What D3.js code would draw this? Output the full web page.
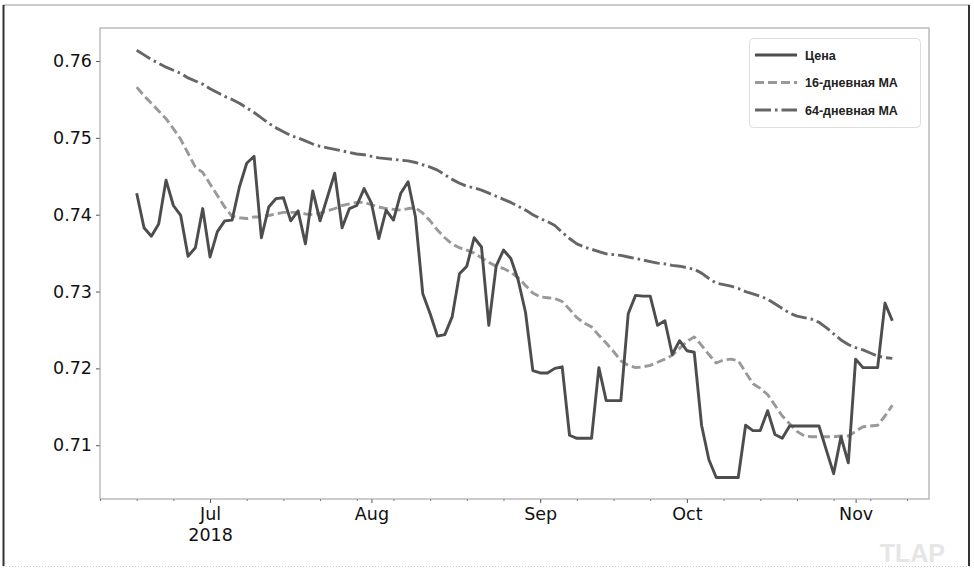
<!DOCTYPE html>
<html>
<head>
<meta charset="utf-8">
<script src="https://cdn.jsdelivr.net/npm/d3@7"></script>
<style>
body { margin: 0; background: #fff; }
svg { display: block; }
</style>
</head>
<body>
<svg id="chart" width="974" height="575"></svg>
<script>
// first trading day of the series, business days only
var startDate = new Date(2018, 5, 18);

var price = [
    0.7428, 0.7383, 0.7372, 0.7388, 0.7445, 0.7412, 0.7399, 0.7346, 0.7357, 0.7408,
    0.7345, 0.7378, 0.7392, 0.7393, 0.7436, 0.7467, 0.7476, 0.7370, 0.7410, 0.7421,
    0.7422, 0.7392, 0.7405, 0.7362, 0.7431, 0.7392, 0.7423, 0.7454, 0.7383, 0.7408,
    0.7412, 0.7434, 0.7415, 0.7369, 0.7406, 0.7393, 0.7428, 0.7443, 0.7397, 0.7297,
    0.7271, 0.7242, 0.7244, 0.7267, 0.7323, 0.7333, 0.7370, 0.7358, 0.7256, 0.7333,
    0.7354, 0.7343, 0.7315, 0.7273, 0.7197, 0.7194, 0.7194, 0.7200, 0.7202, 0.7113,
    0.7109, 0.7109, 0.7109, 0.7201, 0.7158, 0.7158, 0.7158, 0.7271, 0.7295, 0.7294,
    0.7294, 0.7256, 0.7262, 0.7218, 0.7236, 0.7223, 0.7221, 0.7126, 0.7081, 0.7058,
    0.7058, 0.7058, 0.7058, 0.7126, 0.7119, 0.7119, 0.7145, 0.7114, 0.7109, 0.7125,
    0.7125, 0.7125, 0.7125, 0.7125, 0.7094, 0.7063, 0.7111, 0.7077, 0.7212, 0.7201,
    0.7201, 0.7201, 0.7285, 0.7262
];

var ma16 = [
    0.7566, 0.7555, 0.7545, 0.7535, 0.7525, 0.7512, 0.7498, 0.7480, 0.7462, 0.7455,
    0.7440, 0.7425, 0.7410, 0.7398, 0.7396, 0.7395, 0.7397, 0.7397, 0.7399, 0.7401,
    0.7403, 0.7403, 0.7403, 0.7401, 0.7400, 0.7402, 0.7405, 0.7408, 0.7412, 0.7414,
    0.7416, 0.7416, 0.7413, 0.7410, 0.7408, 0.7407, 0.7406, 0.7408, 0.7409, 0.7402,
    0.7392, 0.7380, 0.7370, 0.7362, 0.7357, 0.7354, 0.7350, 0.7344, 0.7338, 0.7333,
    0.7330, 0.7325, 0.7318, 0.7308, 0.7298, 0.7293, 0.7292, 0.7291, 0.7287, 0.7277,
    0.7266, 0.7259, 0.7254, 0.7243, 0.7233, 0.7222, 0.7210, 0.7204, 0.7201, 0.7202,
    0.7204, 0.7208, 0.7212, 0.7217, 0.7226, 0.7235, 0.7241, 0.7230, 0.7218, 0.7207,
    0.7211, 0.7212, 0.7210, 0.7195, 0.7180, 0.7174, 0.7166, 0.7152, 0.7138, 0.7128,
    0.7118, 0.7112, 0.7111, 0.7111, 0.7111, 0.7111, 0.7112, 0.7112, 0.7118, 0.7124,
    0.7125, 0.7126, 0.7138, 0.7152
];

var ma64 = [
    0.7614, 0.7608, 0.7602, 0.7597, 0.7592, 0.7588, 0.7584, 0.7578, 0.7574, 0.7570,
    0.7564, 0.7559, 0.7554, 0.7550, 0.7545, 0.7539, 0.7533, 0.7526, 0.7519, 0.7513,
    0.7508, 0.7503, 0.7500, 0.7496, 0.7492, 0.7489, 0.7487, 0.7485, 0.7483, 0.7481,
    0.7479, 0.7478, 0.7476, 0.7474, 0.7473, 0.7472, 0.7471, 0.7470, 0.7468, 0.7465,
    0.7462, 0.7458, 0.7452, 0.7446, 0.7441, 0.7437, 0.7435, 0.7432, 0.7428, 0.7424,
    0.7420, 0.7416, 0.7411, 0.7406, 0.7400, 0.7395, 0.7391, 0.7386, 0.7377, 0.7369,
    0.7362, 0.7358, 0.7355, 0.7352, 0.7349, 0.7348, 0.7347, 0.7345, 0.7343, 0.7341,
    0.7339, 0.7337, 0.7336, 0.7334, 0.7333, 0.7331, 0.7329, 0.7324, 0.7317, 0.7311,
    0.7309, 0.7307, 0.7304, 0.7300, 0.7297, 0.7294, 0.7290, 0.7284, 0.7278, 0.7272,
    0.7268, 0.7266, 0.7264, 0.7260, 0.7253, 0.7245, 0.7237, 0.7231, 0.7227, 0.7224,
    0.7220, 0.7216, 0.7214, 0.7213
];

var yTicks = [0.71, 0.72, 0.73, 0.74, 0.75, 0.76];
var monthNames = ["Jan", "Feb", "Mar", "Apr", "May", "Jun", "Jul", "Aug", "Sep", "Oct", "Nov", "Dec"];
var legendNames = ["Цена", "16-дневная MA", "64-дневная MA"];

var W = 974, H = 575;
var plotL = 100, plotR = 929, plotT = 28, plotB = 499;
var padDays = 5;

var svg = d3.select('#chart');

// business-day calendar, includes the padding on both sides
function bday(n) {
    var d = new Date(startDate);
    var step = n < 0 ? -1 : 1;
    var k = 0;
    while (k < Math.abs(n)) {
        d.setDate(d.getDate() + step);
        if (d.getDay() != 0 && d.getDay() != 6) k++;
    }
    return d;
}

var firstIdx = -padDays, lastIdx = price.length - 1 + padDays;
var calendar = d3.range(firstIdx, lastIdx + 1).map(function(i) { return {i: i, date: bday(i)}; });

var x = d3.scaleLinear().domain([firstIdx, lastIdx]).range([plotL, plotR]);
var y = d3.scaleLinear().domain([0.7030, 0.7643]).range([plotB, plotT]);

var minorIdx = calendar.filter(function(c) { return c.date.getDay() == 1; }).map(function(c) { return c.i; });
var majorIdx = calendar.filter(function(c, k) {
    return k > 0 && c.date.getMonth() != calendar[k - 1].date.getMonth();
}).map(function(c) { return c.i; });

// outer frame of the screenshot
var gFrame = svg.append('g').attr('class', 'frame');
gFrame.append('line').attr('x1', 3).attr('y1', 5).attr('x2', 970).attr('y2', 5)
    .attr('stroke', '#999').attr('stroke-width', 1);
gFrame.append('line').attr('x1', 3.5).attr('y1', 5).attr('x2', 3.5).attr('y2', 566)
    .attr('stroke', '#333').attr('stroke-width', 2);
gFrame.append('line').attr('x1', 969).attr('y1', 5).attr('x2', 969).attr('y2', 566)
    .attr('stroke', '#333').attr('stroke-width', 2);
gFrame.append('line').attr('x1', 3).attr('y1', 566.5).attr('x2', 970).attr('y2', 566.5)
    .attr('stroke', '#ccc').attr('stroke-width', 1).attr('stroke-dasharray', '1,2');

// watermark
svg.append('text').attr('x', 945).attr('y', 562).attr('text-anchor', 'end')
    .attr('font-family', 'Liberation Sans, Arial, sans-serif').attr('font-weight', 'bold')
    .attr('font-size', 25).attr('fill', '#e6e6e6').text('TLAP');

// axes
var tickFont = 'DejaVu Sans, sans-serif';

var gY = svg.append('g').attr('transform', 'translate(' + plotL + ',0)')
    .call(d3.axisLeft(y).tickValues(yTicks).tickFormat(d3.format('.2f')).tickSize(4).tickPadding(4));
gY.select('.domain').remove();
gY.selectAll('line').attr('stroke', '#555');
gY.selectAll('text').attr('font-family', tickFont).attr('font-size', 17.5).attr('fill', '#111');

var gMinor = svg.append('g').attr('transform', 'translate(0,' + plotB + ')')
    .call(d3.axisBottom(x).tickValues(minorIdx).tickFormat('').tickSize(2));
gMinor.select('.domain').remove();
gMinor.selectAll('line').attr('stroke', '#777');

var gX = svg.append('g').attr('transform', 'translate(0,' + plotB + ')')
    .call(d3.axisBottom(x).tickValues(majorIdx).tickFormat('').tickSize(4));
gX.select('.domain').remove();
gX.selectAll('line').attr('stroke', '#555');
gX.selectAll('.tick').each(function(i, k) {
    var d = calendar[i - firstIdx].date;
    var t = d3.select(this).append('text')
        .attr('text-anchor', 'middle').attr('fill', '#111')
        .attr('font-family', tickFont).attr('font-size', 17.5);
    t.append('tspan').attr('x', 0).attr('y', 21).text(monthNames[d.getMonth()]);
    if (k == 0) t.append('tspan').attr('x', 0).attr('y', 42).text(d.getFullYear());
});

// plot border
svg.append('rect').attr('x', plotL).attr('y', plotT)
    .attr('width', plotR - plotL).attr('height', plotB - plotT)
    .attr('fill', 'none').attr('stroke', '#999').attr('stroke-width', 1);

// series
var series = [
    {values: price, color: '#4d4d4d', dash: null},
    {values: ma16, color: '#999', dash: '9,4'},
    {values: ma64, color: '#666', dash: '16,4,2.5,4'}
];

var line = d3.line()
    .x(function(d, i) { return x(i); })
    .y(function(d) { return y(d); });

var gLines = svg.append('g').attr('class', 'lines');
series.slice().reverse().forEach(function(s) {
    gLines.append('path').datum(s.values)
        .attr('d', line)
        .attr('fill', 'none')
        .attr('stroke', s.color)
        .attr('stroke-width', 2.9)
        .attr('stroke-linejoin', 'round')
        .attr('stroke-dasharray', s.dash);
});

// legend
var gLegend = svg.append('g').attr('class', 'legend');
gLegend.append('rect').attr('x', 749.5).attr('y', 38.5).attr('width', 171).attr('height', 89)
    .attr('rx', 4).attr('fill', '#fff').attr('stroke', '#ddd');
legendNames.forEach(function(name, k) {
    var ly = 55 + k * 27.5;
    gLegend.append('line').attr('x1', 755).attr('x2', 797).attr('y1', ly).attr('y2', ly)
        .attr('stroke', series[k].color).attr('stroke-width', 2.9)
        .attr('stroke-dasharray', series[k].dash);
    gLegend.append('text').attr('x', 805).attr('y', ly + 4.5)
        .attr('font-family', 'Liberation Sans, Arial, sans-serif').attr('font-weight', 'bold')
        .attr('font-size', 12.5).attr('fill', '#222').text(name);
});
</script>
</body>
</html>
